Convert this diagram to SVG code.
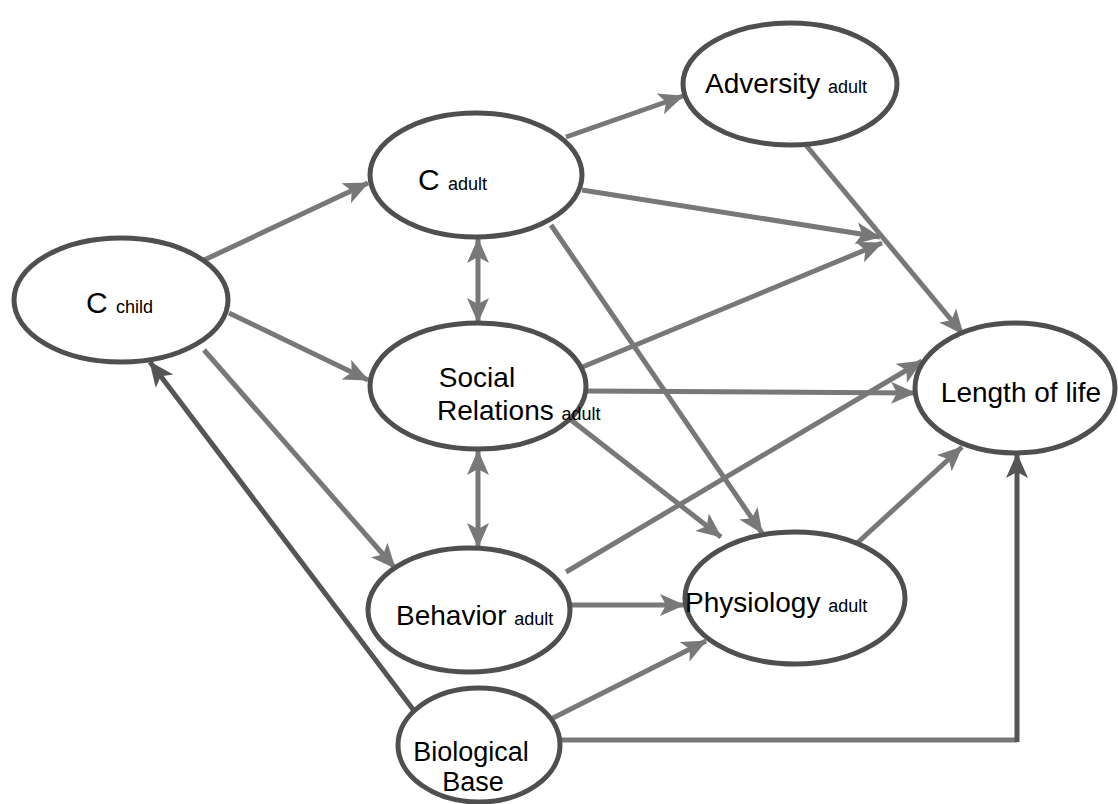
<svg xmlns="http://www.w3.org/2000/svg" width="1118" height="804" viewBox="0 0 1118 804">
<style>
.node{fill:#fff;stroke:#4f4f4f;stroke-width:5}
.e{fill:none;stroke:#787878;stroke-width:5}
.d{fill:none;stroke:#555;stroke-width:5}
text{font-family:"Liberation Sans",Arial,sans-serif;fill:#000}
.big{font-size:28px}
.cap{font-size:30px}
.sub{font-size:18px}
.bio{font-size:27px}
</style>
<defs>
<marker id="a" markerUnits="userSpaceOnUse" viewBox="0 -12 26 24" refX="24" refY="0" markerWidth="26" markerHeight="24" orient="auto-start-reverse">
<path d="M0,-11 L25,0 L0,11 L6,0 z" fill="#787878"/>
</marker>
<marker id="ad" markerUnits="userSpaceOnUse" viewBox="0 -12 26 24" refX="24" refY="0" markerWidth="26" markerHeight="24" orient="auto-start-reverse">
<path d="M0,-11 L25,0 L0,11 L6,0 z" fill="#555"/>
</marker>
</defs>
<g id="connectors">
<line class="e" x1="200" y1="262" x2="368" y2="183" marker-end="url(#a)"/>
<line class="e" x1="229" y1="313" x2="368" y2="380" marker-end="url(#a)"/>
<line class="e" x1="204" y1="350" x2="395" y2="568" marker-end="url(#a)"/>
<line class="d" x1="418" y1="716" x2="150" y2="362" marker-end="url(#ad)"/>
<line class="e" x1="478" y1="239" x2="478" y2="322" marker-start="url(#a)" marker-end="url(#a)"/>
<line class="e" x1="478" y1="451" x2="478" y2="547" marker-start="url(#a)" marker-end="url(#a)"/>
<line class="e" x1="566" y1="137" x2="683" y2="96" marker-end="url(#a)"/>
<line class="e" x1="582" y1="190" x2="880" y2="237" marker-end="url(#a)"/>
<line class="e" x1="580" y1="368" x2="882" y2="243" marker-end="url(#a)"/>
<line class="e" x1="805" y1="144" x2="963" y2="334" marker-end="url(#a)"/>
<line class="e" x1="586" y1="391" x2="915" y2="393" marker-end="url(#a)"/>
<line class="e" x1="551" y1="225" x2="762" y2="533" marker-end="url(#a)"/>
<line class="e" x1="571" y1="420" x2="721" y2="537" marker-end="url(#a)"/>
<line class="e" x1="566" y1="572" x2="922" y2="361" marker-end="url(#a)"/>
<line class="e" x1="570" y1="605" x2="684" y2="605" marker-end="url(#a)"/>
<line class="e" x1="855" y1="545" x2="962" y2="447" marker-end="url(#a)"/>
<line class="e" x1="547" y1="721" x2="706" y2="641" marker-end="url(#a)"/>
<polyline class="e" points="557,740 1017,740" stroke="#8f8f8f"/>
<line class="d" x1="1017" y1="742" x2="1017" y2="454" marker-end="url(#ad)"/>
</g>
<g id="c-child">
<ellipse class="node" cx="121" cy="300" rx="107" ry="62"/>
<text x="86" y="313"><tspan class="cap">C </tspan><tspan class="sub">child</tspan></text>
</g>
<g id="c-adult">
<ellipse class="node" cx="476" cy="175" rx="106" ry="62"/>
<text x="418" y="190"><tspan class="cap">C </tspan><tspan class="sub">adult</tspan></text>
</g>
<g id="adversity">
<ellipse class="node" cx="790" cy="84" rx="107" ry="61"/>
<text x="705" y="93"><tspan class="big">Adversity </tspan><tspan class="sub">adult</tspan></text>
</g>
<g id="social">
<ellipse class="node" cx="478" cy="386" rx="108" ry="63"/>
<text class="big" x="477" y="387" text-anchor="middle">Social</text>
<text x="437" y="420"><tspan class="big">Relations </tspan><tspan class="sub">adult</tspan></text>
</g>
<g id="length">
<ellipse class="node" cx="1015" cy="388" rx="100" ry="65"/>
<text class="big" x="1021" y="402" text-anchor="middle">Length of life</text>
</g>
<g id="behavior">
<ellipse class="node" cx="469" cy="610" rx="101" ry="62"/>
<text x="396" y="625"><tspan class="big">Behavior </tspan><tspan class="sub">adult</tspan></text>
</g>
<g id="physiology">
<ellipse class="node" cx="795" cy="598" rx="110" ry="66"/>
<text x="685" y="612"><tspan class="big">Physiology </tspan><tspan class="sub">adult</tspan></text>
</g>
<g id="biological">
<ellipse class="node" cx="479" cy="745" rx="81" ry="57"/>
<text class="bio" x="471" y="761" text-anchor="middle">Biological</text>
<text class="bio" x="473" y="791" text-anchor="middle">Base</text>
</g>
</svg>
